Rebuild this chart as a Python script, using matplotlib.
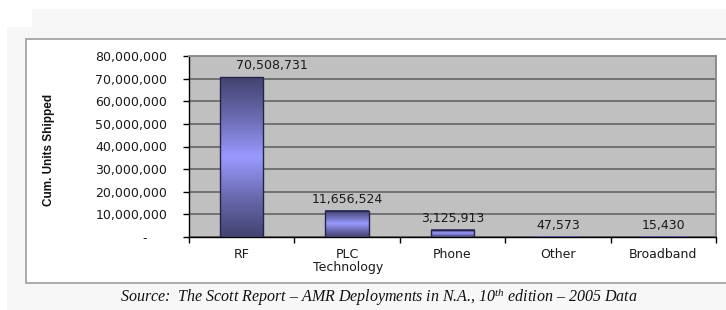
import numpy as np
import matplotlib
matplotlib.use("Agg")
import matplotlib.pyplot as plt
from matplotlib.colors import LinearSegmentedColormap
from matplotlib.patches import Rectangle
from matplotlib.ticker import FuncFormatter

# data
categories = ["RF", "PLC", "Phone", "Other", "Broadband"]
units = [70508731, 11656524, 3125913, 47573, 15430]
value_labels = ["70,508,731", "11,656,524", "3,125,913", "47,573", "15,430"]
# the first label sits off to the right of its bar in the original
label_dx = [22, 0, 0, 0, 0]
y_ticks = np.arange(0, 80000001, 10000000)
source = (r"Source:  The Scott Report – AMR Deployments in N.A., "
          r"10$^{\mathrm{th}}$ edition – 2005 Data")

W, H = 726, 310
plt.rcParams['mathtext.fontset'] = 'custom'
plt.rcParams['mathtext.rm'] = 'Liberation Serif:italic'
plt.rcParams['mathtext.it'] = 'Liberation Serif:italic'

fig = plt.figure(figsize=(W / 100, H / 100), dpi=100)
fig.patch.set_facecolor("white")


def px(x0, y0, x1, y1):
    # pixel box (top-left origin) -> figure fraction rectangle args
    return (x0 / W, 1 - y1 / H), (x1 - x0) / W, (y1 - y0) / H


# slide-like backgrounds
for box in [(32, 9, 726, 27), (7, 27, 726, 310)]:
    xy, w, h = px(*box)
    fig.patches.append(Rectangle(xy, w, h, transform=fig.transFigure,
                                 facecolor="#f7f7f7", edgecolor="none", zorder=0))
xy, w, h = px(26, 39, 740, 283)
fig.patches.append(Rectangle(xy, w, h, transform=fig.transFigure,
                             facecolor="white", edgecolor="#a4a4a4", lw=1.3, zorder=1))

ax = fig.add_axes([189 / W, 1 - 237 / H, (716 - 189) / W, (237 - 56) / H])
ax.set_facecolor("#c0c0c0")
ax.set_zorder(2)

x = np.arange(len(categories))
bars = ax.bar(x, units, width=0.41, facecolor="none", edgecolor="#24244a",
              lw=1, zorder=4)

cmap = LinearSegmentedColormap.from_list("bar", ["#43436f", "#6a6ab0", "#9a9aff",
                                                 "#6a6ab0", "#43436f"])
grad = np.linspace(0, 1, 256).reshape(-1, 1)
for b in bars:
    bx, by, bw, bh = b.get_x(), b.get_y(), b.get_width(), b.get_height()
    ax.imshow(grad, cmap=cmap, aspect="auto", extent=[bx, bx + bw, by, by + bh],
              origin="lower", zorder=3, interpolation="bilinear")
ax.set_xlim(-0.5, len(categories) - 0.5)
ax.set_ylim(y_ticks[0], y_ticks[-1])

for xi, v, lab, dx in zip(x, units, value_labels, label_dx):
    ax.annotate(lab, (xi, v), xytext=(dx, 3.6), textcoords="offset points",
                ha="center", va="bottom", fontsize=9, color="#1a1a1a",
                family="DejaVu Sans", zorder=5)

# y axis
ax.set_yticks(y_ticks)
ax.yaxis.set_major_formatter(FuncFormatter(
    lambda v, p: "-     " if v == 0 else f"{int(v):,}"))
ax.tick_params(axis="y", direction="out", length=4.3, width=1, pad=11.5,
               labelsize=9, labelcolor="#1a1a1a")
ax.grid(axis="y", color="#5e5e5e", lw=1.1, zorder=1)
ax.set_axisbelow(True)

# x axis: labels at categories, ticks between them
ax.set_xticks(x)
ax.set_xticklabels(categories)
ax.set_xticks(np.arange(-0.5, len(categories)), minor=True)
ax.tick_params(axis="x", which="major", length=0, pad=8, labelsize=9,
               labelcolor="#1a1a1a")
ax.tick_params(axis="x", which="minor", direction="out", length=4.3, width=1)
for t in ax.get_xticklabels() + ax.get_yticklabels():
    t.set_family("DejaVu Sans")

ax.set_xlabel("Technology", fontsize=9, color="#1a1a1a", family="DejaVu Sans")
ax.xaxis.set_label_coords((348 - 189) / 527, -0.135)

for side in ["left", "bottom"]:
    ax.spines[side].set_color("black")
    ax.spines[side].set_linewidth(1)
for side in ["top", "right"]:
    ax.spines[side].set_color("#8c8c8c")
    ax.spines[side].set_linewidth(1.4)

fig.text(49 / W, 1 - 150 / H, "Cum. Units Shipped", rotation=90, ha="center",
         va="center", fontsize=8.5, fontweight="bold",
         family="Liberation Sans", color="#111111")

fig.text(379 / W, 1 - 302 / H, source, ha="center", va="baseline", fontsize=11.5,
         style="italic", family="Liberation Serif", color="#111111")

fig.savefig("out.png", dpi=100)
